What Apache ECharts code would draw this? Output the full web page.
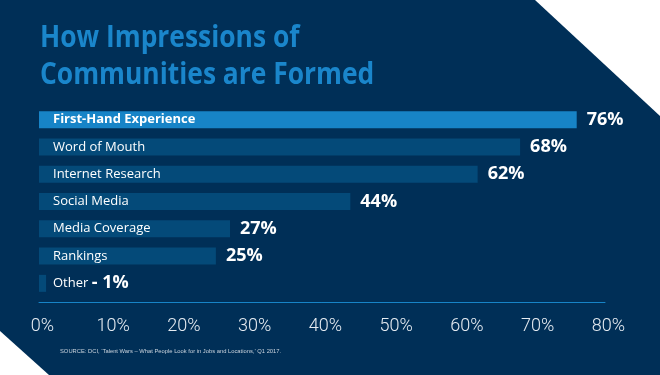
<!DOCTYPE html>
<html>
<head>
<meta charset="utf-8">
<script src="https://cdn.jsdelivr.net/npm/echarts@6/dist/echarts.min.js"></script>
<style>
  html, body { margin: 0; padding: 0; background: #002f57; }
  #chart { width: 660px; height: 375px; }
</style>
</head>
<body>
<div id="chart"></div>
<script>
// data
var categories = ['First-Hand Experience', 'Word of Mouth', 'Internet Research', 'Social Media', 'Media Coverage', 'Rankings', 'Other'];
var values = [76, 68, 62, 44, 27, 25, 1];
var xTicks = { min: 0, max: 80, interval: 10 };

var navy = '#002f57';
var bright = '#1784c7';
var dim = '#044a79';

var chart = echarts.init(document.getElementById('chart'));

chart.setOption({
  backgroundColor: navy,
  animation: false,
  graphic: [
    // corner cut-outs
    { type: 'polygon', shape: { points: [[535, 0], [660, 0], [660, 116]] }, style: { fill: '#ffffff' } },
    { type: 'polygon', shape: { points: [[0, 331], [0, 375], [49, 375]] }, style: { fill: '#ffffff' } },
    // title, squeezed a bit since no condensed face is installed
    {
      type: 'text', x: 40, y: 20, scaleX: 0.88,
      style: {
        text: 'How Impressions of\nCommunities are Formed',
        fill: '#1a86cb',
        font: 'bold 30px "Open Sans"',
        lineHeight: 37,
        verticalAlign: 'top'
      }
    },
    {
      type: 'text', left: 60, top: 348,
      style: {
        text: 'SOURCE: DCI, \u2018Talent Wars \u2013 What People Look for in Jobs and Locations,\u2019 Q1 2017.',
        fill: '#c9d3dd', font: '5.8px sans-serif'
      }
    }
  ],
  grid: { left: 39, right: 55, top: 106, bottom: 78 },
  xAxis: {
    type: 'value',
    min: xTicks.min,
    max: xTicks.max,
    interval: xTicks.interval,
    offset: 5,
    splitLine: { show: false },
    axisTick: { show: false },
    axisLine: { show: true, lineStyle: { color: bright, width: 1 } },
    axisLabel: {
      formatter: '{value}%',
      color: '#e6ecf2',
      fontFamily: 'Roboto',
      fontWeight: 300,
      fontSize: 18,
      margin: 15,
      padding: [0, 0, 0, 7]
    }
  },
  yAxis: {
    type: 'category',
    inverse: true,
    data: categories,
    z: 5,
    axisLine: { show: false },
    axisTick: { show: false },
    axisLabel: {
      inside: true,
      margin: 14,
      color: '#ffffff',
      formatter: function (v, i) {
        if (i === 0) return '{b|' + v + '}';
        if (i === categories.length - 1) return '{n|' + v + '} {v|- ' + values[i] + '%}';
        return '{n|' + v + '}';
      },
      rich: {
        n: { fontFamily: 'Open Sans', fontSize: 13, color: '#ffffff' },
        b: { fontFamily: 'Open Sans', fontSize: 13, fontWeight: 'bold', color: '#ffffff' },
        v: { fontFamily: 'Open Sans', fontSize: 18, fontWeight: 'bold', color: '#ffffff' }
      }
    }
  },
  series: [{
    type: 'bar',
    barWidth: 17,
    data: values.map(function (v, i) {
      return {
        value: v,
        itemStyle: { color: i === 0 ? bright : dim },
        label: { show: i !== values.length - 1 }
      };
    }),
    label: {
      show: true,
      position: 'right',
      distance: 10,
      formatter: '{c}%',
      color: '#ffffff',
      fontFamily: 'Open Sans',
      fontWeight: 'bold',
      fontSize: 18
    }
  }]
});
</script>
</body>
</html>
